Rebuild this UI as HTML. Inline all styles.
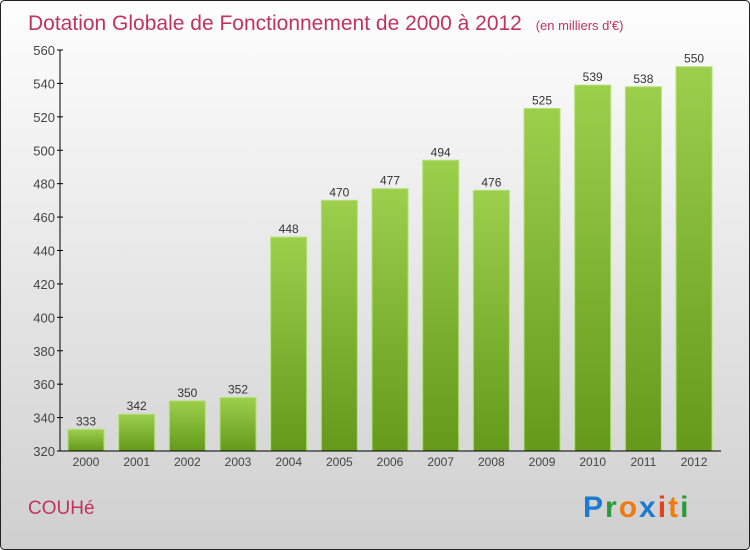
<!DOCTYPE html>
<html><head><meta charset="utf-8"><style>
body{margin:0}
svg{display:block;font-family:"Liberation Sans",sans-serif}
</style></head><body>
<svg id="c" width="750" height="550">
<defs>
<linearGradient id="bg" x1="0" y1="0" x2="0" y2="1"><stop offset="0" stop-color="#fefefe"/><stop offset="1" stop-color="#cfcfcf"/></linearGradient>
<linearGradient id="bar" x1="0" y1="0" x2="0" y2="1"><stop offset="0" stop-color="#9ccf4c"/><stop offset="1" stop-color="#64991a"/></linearGradient>
</defs>
<rect x="0.5" y="0.5" width="749" height="549" rx="4" fill="url(#bg)" stroke="#222"/>
<text x="28" y="30" font-size="21" fill="#c0335f">Dotation Globale de Fonctionnement de 2000 à 2012 <tspan font-size="13" dx="8">(en milliers d'€)</tspan></text>
<text x="28" y="514" font-size="19" fill="#c0335f">COUHé</text>
<g font-size="30" font-weight="bold" font-family="'Liberation Sans',sans-serif">
<text x="583" y="517" letter-spacing="2"><tspan fill="#1a7bd0">P</tspan><tspan fill="#2a9a3a">r</tspan><tspan fill="#f07a10">o</tspan><tspan fill="#1a7bd0">x</tspan><tspan fill="#e8401a">i</tspan><tspan fill="#f07a10">t</tspan><tspan fill="#2a9a3a">i</tspan></text>
</g>
<g id="plot"></g>
</svg>
<script>
const years=["2000","2001","2002","2003","2004","2005","2006","2007","2008","2009","2010","2011","2012"];
const values=[333,342,350,352,448,470,477,494,476,525,539,538,550];
const yTicks=[320,340,360,380,400,420,440,460,480,500,520,540,560];
const NS="http://www.w3.org/2000/svg";
const g=document.getElementById('plot');
const y0=451,y1=50,vmin=320,vmax=560,x0=60,step=50.67;
const ys=v=>y0-(v-vmin)/(vmax-vmin)*(y0-y1);
const xs=i=>x0+26+i*step;
function mk(t,a){const e=document.createElementNS(NS,t);for(const k in a)e.setAttribute(k,a[k]);g.appendChild(e);return e;}
yTicks.forEach(v=>{
 const t=mk('line',{x1:x0-3,x2:x0+3,y1:ys(v),y2:ys(v),stroke:'#000'});
 
 
 const l=mk('text',{x:x0-5,y:ys(v)+5,'text-anchor':'end','font-size':13,fill:'#444'});
 l.textContent=v;
 
 
});
values.forEach((v,i)=>{
 const r=mk('rect',{x:xs(i)-18,y:ys(v),width:36,height:y0-ys(v),fill:'url(#bar)',stroke:'#b5e07a','stroke-width':1});
 
 
 const t=mk('text',{x:xs(i),y:ys(v)-4,'text-anchor':'middle','font-size':12,fill:'#333'});
 t.textContent=v;
 
 
 const xl=mk('text',{x:xs(i),y:466,'text-anchor':'middle','font-size':12,fill:'#444'});
 xl.textContent=years[i];
 
 
});
const ya=mk('line',{x1:x0,x2:x0,y1:y1,y2:y0,stroke:'#000'});


const xa=mk('line',{x1:x0,x2:721,y1:y0,y2:y0,stroke:'#000'});


</script>
</body></html>
